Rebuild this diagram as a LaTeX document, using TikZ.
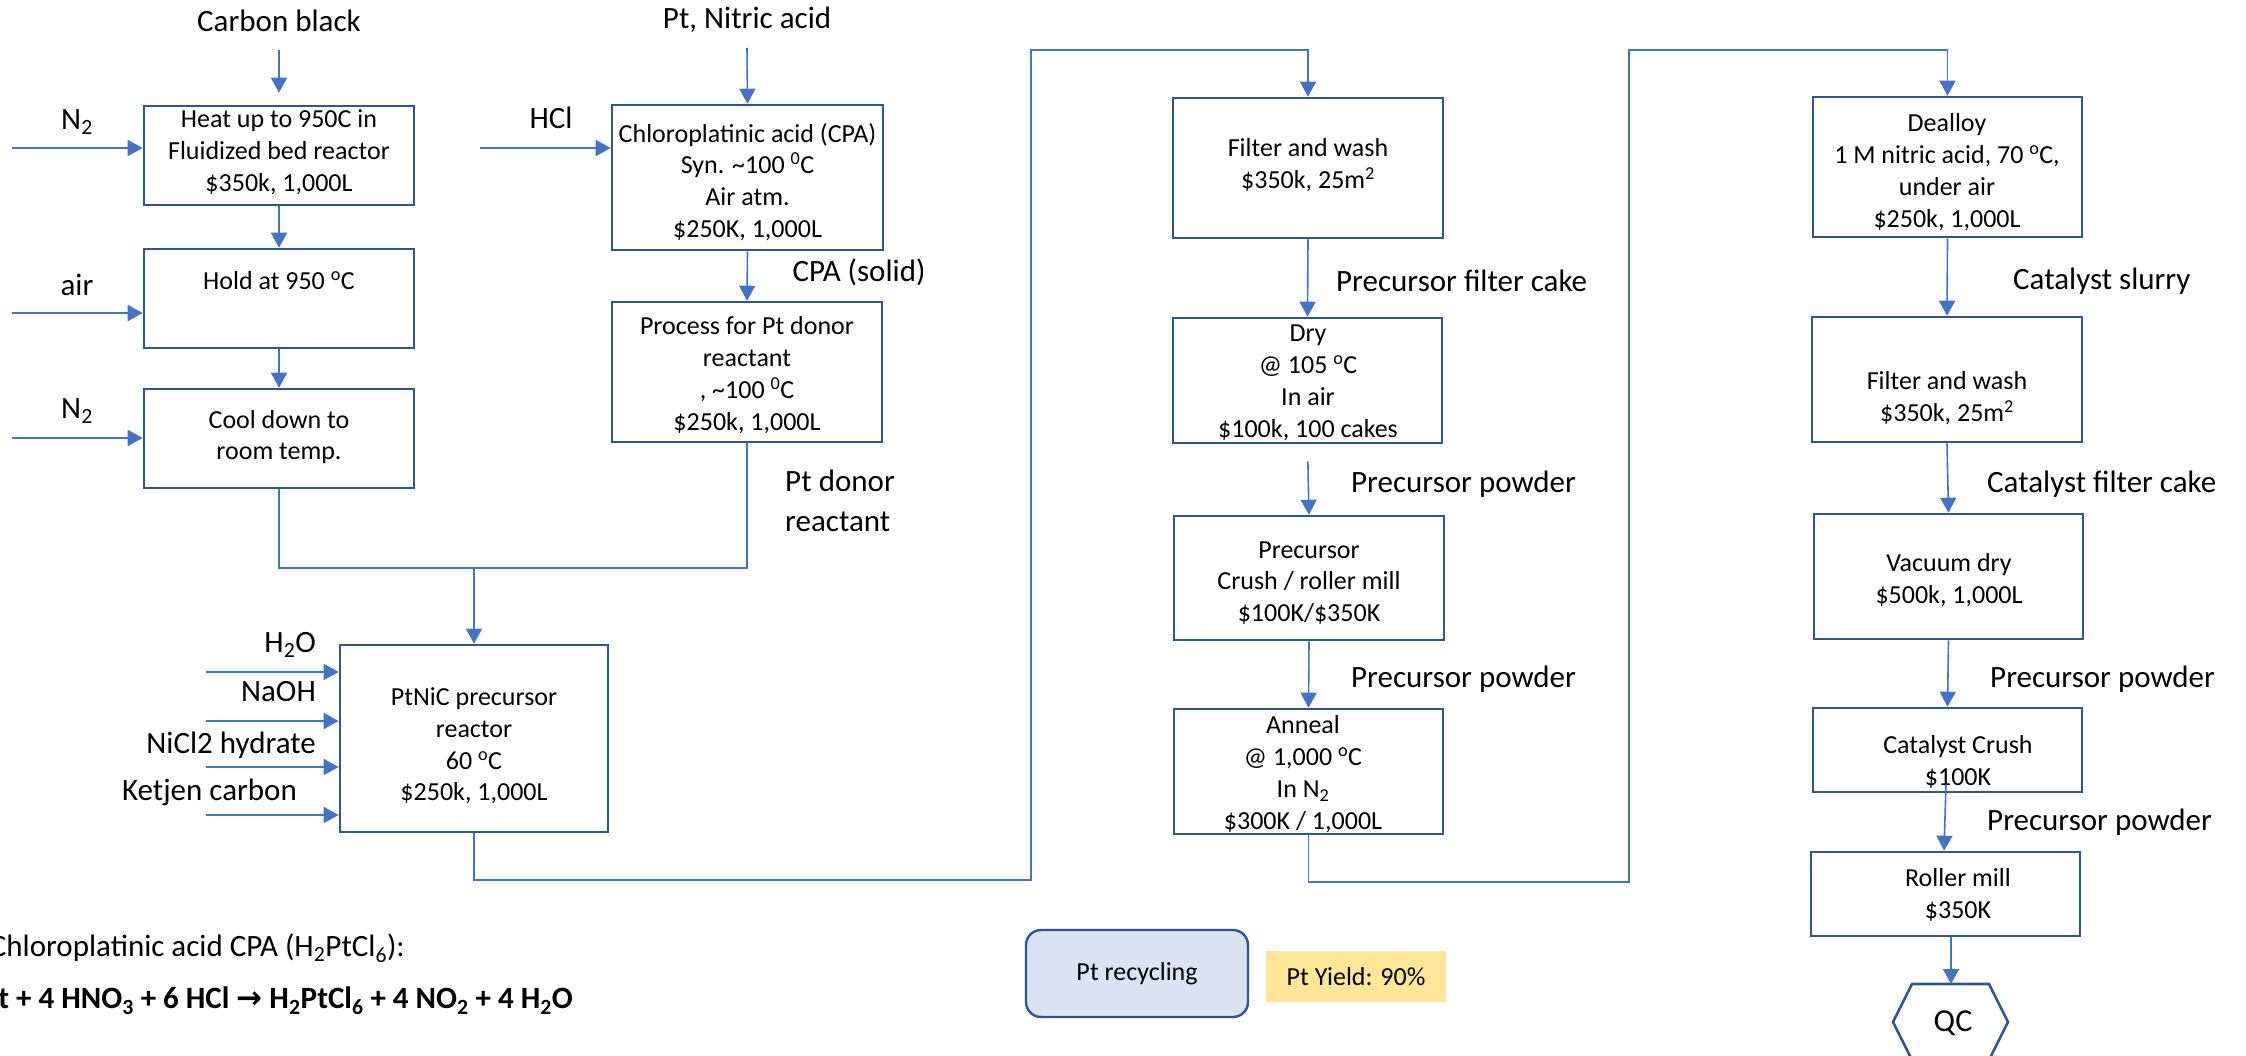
\documentclass[tikz,border=0pt]{standalone}
\usepackage{fontspec}
\setmainfont{Carlito}
\newfontfamily\symfont{DejaVu Sans}
\usetikzlibrary{arrows.meta}
\definecolor{boxblue}{HTML}{2F5597}
\definecolor{lineblue}{HTML}{4472C4}
\definecolor{recfill}{HTML}{DAE3F3}
\definecolor{yieldfill}{HTML}{FFE699}
\newcommand{\degC}{\textsuperscript{o}C}
\newcommand{\zdegC}{\textsuperscript{0}C}
\begin{document}
\begin{tikzpicture}[x=1pt,y=-1pt,
  box/.style={draw=boxblue, line width=2.6pt, fill=white, inner sep=0pt},
  flow/.style={draw=lineblue, line width=1.6pt},
  arr/.style={flow, -{Triangle[length=15pt,width=16pt]}},
  btxt/.style={font=\fontsize{26}{31.8}\selectfont, align=center, inner sep=0pt},
  lbl/.style={font=\fontsize{31}{40}\selectfont, inner sep=0pt},
  eqn/.style={font=\fontsize{31}{37}\selectfont, inner sep=0pt}]
\useasboundingbox (0,0) rectangle (2246,1055);
\fill[white] (0,0) rectangle (2246,1055);
\clip (0,0) rectangle (2246,1055);

% ---------- carbon support preparation ----------
\node[box, minimum width=270, minimum height=99] (b1) at (279,155.5) {};
\node[btxt] (b1t) at (279,152) {Heat up to 950C in\\Fluidized bed reactor\\\$350k, 1,000L};
\node[box, minimum width=270, minimum height=99] (b2) at (279,298.5) {};
\node[btxt] (b2t) at (279,281) {Hold at 950 \degC};
\node[box, minimum width=270, minimum height=99] (b3) at (279,438.5) {};
\node[btxt] (b3t) at (279,437) {Cool down to\\room temp.};

\node[lbl] (carbon) at (279,21) {Carbon black};
\coordinate (cbin) at (279,50);
\draw[arr, shorten >=12pt] (cbin) -- (b1.north);

\node[lbl] (n2a) at (77,122) {N\textsubscript{2}};
\node[lbl] (airl) at (77,285) {air};
\node[lbl] (n2b) at (77,411) {N\textsubscript{2}};
\coordinate (in1) at (12,148);
\coordinate (in2) at (12,313);
\coordinate (in3) at (12,438);
\draw[arr] (in1) -- (in1 -| b1.west);
\draw[arr] (in2) -- (in2 -| b2.west);
\draw[arr] (in3) -- (in3 -| b3.west);
\draw[arr] (b1.south) -- (b2.north);
\draw[arr] (b2.south) -- (b3.north);

% ---------- platinum donor preparation ----------
\node[box, minimum width=271, minimum height=145] (cpa) at (747.5,177.5) {};
\node[btxt] (cpat) at (747.5,182) {Chloroplatinic acid (CPA)\\Syn. \textasciitilde100 \zdegC\\Air atm.\\\$250K, 1,000L};
\node[box, minimum width=270, minimum height=140] (proc) at (747,372) {};
\node[btxt] (proct) at (747,375) {Process for Pt donor\\reactant\\, \textasciitilde100 \zdegC\\\$250k, 1,000L};

\node[lbl] (ptna) at (747,20) {Pt, Nitric acid};
\coordinate (ptin) at (747,48);
\draw[arr] (ptin) -- (cpa.north);
\node[lbl] (hcl) at (551,118) {HCl};
\coordinate (hclin) at (480,148);
\draw[arr] (hclin) -- (hclin -| cpa.west);
\draw[arr] (cpa.south) -- (proc.north);
\node[lbl] (cpas) at (859,272) {CPA (solid)};
\node[lbl, align=left, anchor=west] (ptdon) at (785,501) {Pt donor\\reactant};

% ---------- PtNiC precursor reactor ----------
\node[box, minimum width=268, minimum height=187] (ptnic) at (474,738.5) {};
\node[btxt] (ptnict) at (474,746) {PtNiC precursor\\reactor\\60 \degC\\\$250k, 1,000L};
\coordinate (join) at (474,568);
\draw[flow] (b3.south) |- (join);
\draw[flow] (proc.south) |- (join);
\draw[arr] (join) -- (ptnic.north);

\node[lbl, anchor=east] (h2o) at (316,645) {H\textsubscript{2}O};
\node[lbl, anchor=east] (naoh) at (316,692) {NaOH};
\node[lbl, anchor=east] (nicl) at (316,745) {NiCl2 hydrate};
\node[lbl, anchor=east] (ketj) at (297,792) {Ketjen carbon};
\coordinate (r1) at (206,672);
\coordinate (r2) at (206,721);
\coordinate (r3) at (206,767);
\coordinate (r4) at (206,815);
\draw[arr] (r1) -- (r1 -| ptnic.west);
\draw[arr] (r2) -- (r2 -| ptnic.west);
\draw[arr] (r3) -- (r3 -| ptnic.west);
\draw[arr] (r4) -- (r4 -| ptnic.west);

% reaction note, running off the left edge
\node[eqn, anchor=east] (eq1) at (405,948) {Chloroplatinic acid CPA (H\textsubscript{2}PtCl\textsubscript{6}):};
\node[eqn, anchor=east, font=\fontsize{31}{37}\selectfont\bfseries] (eq2) at (573,1001)
  {Pt + 4 HNO\textsubscript{3} + 6 HCl {\symfont →} H\textsubscript{2}PtCl\textsubscript{6} + 4 NO\textsubscript{2} + 4 H\textsubscript{2}O};

% ---------- precursor treatment ----------
\node[box, minimum width=270, minimum height=140] (filt) at (1308,168) {};
\node[btxt] (filtt) at (1308,165) {Filter and wash\\\$350k, 25m\textsuperscript{2}};
\node[box, minimum width=269, minimum height=125] (dry) at (1307.5,380.5) {};
\node[btxt] (dryt) at (1308,383) {Dry\\@ 105 \degC\\In air\\\$100k, 100 cakes};
\node[box, minimum width=270, minimum height=124] (crush) at (1309,578) {};
\node[btxt] (crusht) at (1309,583) {Precursor\\Crush / roller mill\\\$100K/\$350K};
\node[box, minimum width=269, minimum height=125] (anneal) at (1308.5,771.5) {};
\node[btxt] (annealt) at (1303,774) {Anneal\\@ 1,000 \degC\\In N\textsubscript{2}\\\$300K / 1,000L};

\draw[arr] (ptnic.south) |- (1031,880) -- (1031,50) -| (filt.north);
\draw[arr] (filt.south) -- (dry.north);
\draw[arr, shorten <=17pt] (dry.south) -- (crush.north);
\draw[arr] (crush.south) -- (anneal.north);
\node[lbl, anchor=west] (pfc) at (1336,281) {Precursor filter cake};
\node[lbl, anchor=west] (pp1) at (1351,484) {Precursor powder};
\node[lbl, anchor=west] (pp2) at (1351,679) {Precursor powder};

\node[draw=boxblue, line width=2.4pt, fill=recfill, rounded corners=15pt,
      minimum width=222, minimum height=87, font=\fontsize{26}{31}\selectfont] (rec) at (1137,973.5) {Pt recycling};
\node[fill=yieldfill, minimum width=180, minimum height=51, font=\fontsize{26}{31}\selectfont] (yield) at (1356,976.5) {Pt Yield: 90\%};

% ---------- catalyst finishing ----------
\node[box, minimum width=269, minimum height=140] (deal) at (1947.5,167) {};
\node[btxt] (dealt) at (1947,172) {Dealloy\\1 M nitric acid, 70 \degC,\\under air\\\$250k, 1,000L};
\node[box, minimum width=270, minimum height=125] (filt2) at (1947,379.5) {};
\node[btxt] (filt2t) at (1947,398) {Filter and wash\\\$350k, 25m\textsuperscript{2}};
\node[box, minimum width=269, minimum height=125] (vac) at (1948.5,576.5) {};
\node[btxt] (vact) at (1949,580) {Vacuum dry\\\$500k, 1,000L};
\node[box, minimum width=269, minimum height=84] (crush2) at (1947.5,750) {};
\node[btxt] (crush2t) at (1958,762) {Catalyst Crush\\\$100K};
\node[box, minimum width=269, minimum height=84] (roll) at (1945.5,894) {};
\node[btxt] (rollt) at (1958,895) {Roller mill\\\$350K};

\draw[box] (1912,984) -- (1989,984) -- (2008,1022) -- (1989,1060) -- (1912,1060) -- (1893,1022) -- cycle;
\node[lbl, font=\fontsize{32}{38}\selectfont] (qc) at (1953,1023) {QC};
\coordinate (qctop) at (1951,984);

\draw[arr] (anneal.south) |- (1629,882) -- (1629,50) -| (deal.north);
\draw[arr] (deal.south) -- (filt2.north);
\draw[arr] (filt2.south) -- (vac.north);
\draw[arr] (vac.south) -- (crush2.north);
\draw[arr] ([xshift=-1.5pt,yshift=9pt]crush2.south) -- ([xshift=-1.5pt]roll.north);
\draw[arr] (roll.south -| qctop) -- (qctop);
\node[lbl, anchor=west] (cs) at (2013,281) {Catalyst slurry};
\node[lbl, anchor=west] (cfc) at (1987,484) {Catalyst filter cake};
\node[lbl, anchor=west] (pp3) at (1990,679) {Precursor powder};
\node[lbl, anchor=west] (pp4) at (1987,822) {Precursor powder};
\end{tikzpicture}
\end{document}
